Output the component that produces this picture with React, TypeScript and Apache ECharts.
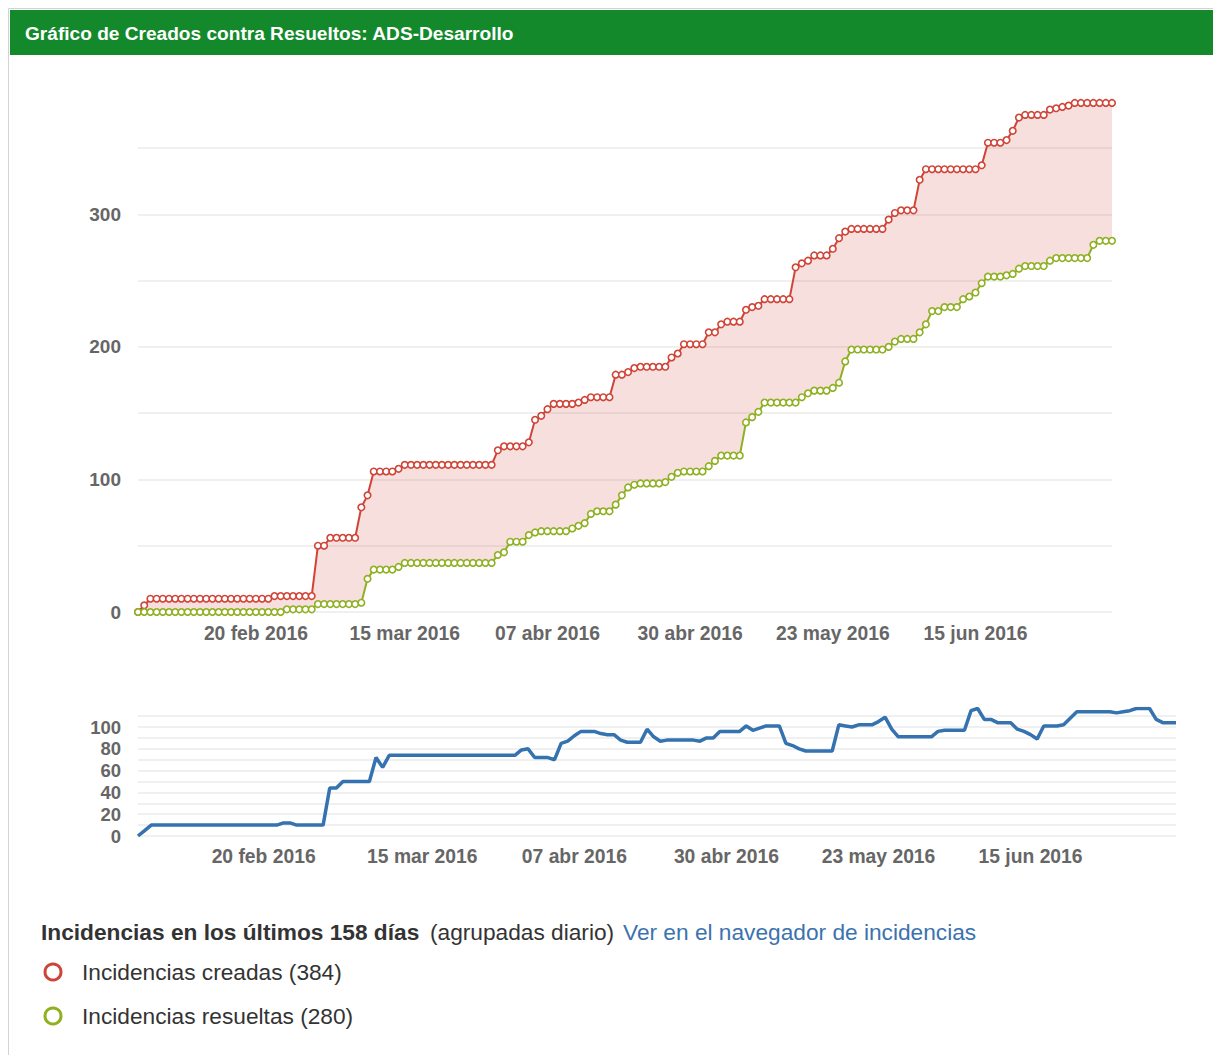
import React, { useEffect, useRef } from "react";
import * as echarts from "echarts";

const MONTHS_ES = ["ene", "feb", "mar", "abr", "may", "jun", "jul", "ago", "sep", "oct", "nov", "dic"];
const DAY_COUNT = 158;
const tickLabels = ["20 feb 2016", "15 mar 2016", "07 abr 2016", "30 abr 2016", "23 may 2016", "15 jun 2016"];
const mainYTicks = [0, 100, 200, 300];
const trendYTicks = [0, 20, 40, 60, 80, 100];

const created = [
  0, 5, 10, 10, 10, 10, 10, 10, 10, 10,
  10, 10, 10, 10, 10, 10, 10, 10, 10, 10,
  10, 10, 12, 12, 12, 12, 12, 12, 12, 50,
  50, 56, 56, 56, 56, 56, 79, 88, 106, 106,
  106, 106, 108, 111, 111, 111, 111, 111, 111, 111,
  111, 111, 111, 111, 111, 111, 111, 111, 122, 125,
  125, 125, 125, 128, 145, 148, 153, 157, 157, 157,
  157, 158, 160, 162, 162, 162, 162, 179, 179, 181,
  184, 185, 185, 185, 185, 185, 192, 195, 202, 202,
  202, 202, 211, 211, 217, 219, 219, 219, 228, 230,
  231, 236, 236, 236, 236, 236, 260, 263, 265, 269,
  269, 269, 274, 282, 287, 289, 289, 289, 289, 289,
  289, 296, 301, 303, 303, 303, 326, 334, 334, 334,
  334, 334, 334, 334, 334, 334, 337, 354, 354, 354,
  356, 363, 373, 375, 375, 375, 375, 379, 380, 381,
  382, 384, 384, 384, 384, 384, 384, 384,
];

const resolved = [
  0, 0, 0, 0, 0, 0, 0, 0, 0, 0,
  0, 0, 0, 0, 0, 0, 0, 0, 0, 0,
  0, 0, 0, 0, 2, 2, 2, 2, 2, 6,
  6, 6, 6, 6, 6, 6, 7, 25, 32, 32,
  32, 32, 34, 37, 37, 37, 37, 37, 37, 37,
  37, 37, 37, 37, 37, 37, 37, 37, 43, 45,
  53, 53, 53, 58, 60, 61, 61, 61, 61, 61,
  63, 65, 67, 74, 76, 76, 76, 81, 88, 94,
  96, 97, 97, 97, 97, 98, 102, 105, 106, 106,
  106, 106, 110, 114, 118, 118, 118, 118, 143, 147,
  151, 158, 158, 158, 158, 158, 158, 162, 165, 167,
  167, 167, 169, 173, 189, 198, 198, 198, 198, 198,
  198, 200, 204, 206, 206, 206, 211, 217, 227, 227,
  230, 230, 230, 236, 238, 241, 248, 253, 253, 253,
  254, 255, 259, 261, 261, 261, 261, 265, 267, 267,
  267, 267, 267, 267, 277, 280, 280, 280,
];

const unresolved = [
  0, 5, 10, 10, 10, 10, 10, 10, 10, 10,
  10, 10, 10, 10, 10, 10, 10, 10, 10, 10,
  10, 10, 12, 12, 10, 10, 10, 10, 10, 44,
  44, 50, 50, 50, 50, 50, 72, 63, 74, 74,
  74, 74, 74, 74, 74, 74, 74, 74, 74, 74,
  74, 74, 74, 74, 74, 74, 74, 74, 79, 80,
  72, 72, 72, 70, 85, 87, 92, 96, 96, 96,
  94, 93, 93, 88, 86, 86, 86, 98, 91, 87,
  88, 88, 88, 88, 88, 87, 90, 90, 96, 96,
  96, 96, 101, 97, 99, 101, 101, 101, 85, 83,
  80, 78, 78, 78, 78, 78, 102, 101, 100, 102,
  102, 102, 105, 109, 98, 91, 91, 91, 91, 91,
  91, 96, 97, 97, 97, 97, 115, 117, 107, 107,
  104, 104, 104, 98, 96, 93, 89, 101, 101, 101,
  102, 108, 114, 114, 114, 114, 114, 114, 113, 114,
  115, 117, 117, 117, 107, 104, 104, 104,
];

const RED = "#d04437";
const GREEN = "#8eb021";
const BLUE = "#3572b0";
const FONT = '"Liberation Sans", Arial, sans-serif';
const LEG_FS = 22.7;

function buildDates(): string[] {
  const out: string[] = [];
  for (let i = 0; i < DAY_COUNT; i++) {
    const d = new Date(Date.UTC(2016, 1, 1 + i));
    out.push(
      `${String(d.getUTCDate()).padStart(2, "0")} ${MONTHS_ES[d.getUTCMonth()]} ${d.getUTCFullYear()}`
    );
  }
  return out;
}

function legendText(x: number, y: number, text: string, fill: string, bold = false) {
  return {
    type: "text",
    x,
    y,
    silent: true,
    style: {
      text,
      fill,
      fontSize: LEG_FS,
      fontWeight: bold ? "bold" : "normal",
      fontFamily: FONT,
      verticalAlign: "middle",
    },
  };
}

export default function App() {
  const ref = useRef<HTMLDivElement>(null);

  useEffect(() => {
    document.body.style.margin = "0";
    if (!ref.current) return;
    const chart = echarts.init(ref.current, null, { renderer: "svg" });
    const dates = buildDates();

    const xLabel = {
      interval: (_i: number, v: string) => tickLabels.includes(v),
      fontSize: 19.3,
      fontWeight: "bold" as const,
      color: "#666",
      fontFamily: FONT,
    };

    const option: any = {
      animation: false,
      textStyle: { fontFamily: FONT },
      grid: [
        { left: 138, top: 95, width: 974, height: 517 },
        { left: 138, top: 708.5, width: 1038, height: 127.5 },
      ],
      xAxis: [
        {
          type: "category",
          gridIndex: 0,
          data: dates,
          boundaryGap: false,
          axisLine: { show: false },
          axisTick: { show: false },
          axisLabel: { ...xLabel, margin: 12 },
        },
        {
          type: "category",
          gridIndex: 1,
          data: dates,
          boundaryGap: false,
          axisLine: { show: false },
          axisTick: { show: false },
          axisLabel: { ...xLabel, margin: 11 },
        },
      ],
      yAxis: [
        {
          type: "value",
          gridIndex: 0,
          min: 0,
          max: 390,
          interval: 50,
          axisLine: { show: false },
          axisTick: { show: false },
          splitLine: { showMaxLine: false, lineStyle: { color: "#ebebeb", width: 1.5 } },
          axisLabel: {
            showMaxLabel: false,
            formatter: (v: number) => (mainYTicks.includes(v) ? String(v) : ""),
            fontSize: 19,
            fontWeight: "bold",
            color: "#666",
            margin: 17,
            fontFamily: FONT,
          },
        },
        {
          type: "value",
          gridIndex: 1,
          min: 0,
          max: 117,
          interval: 10,
          axisLine: { show: false },
          axisTick: { show: false },
          splitLine: { showMaxLine: false, lineStyle: { color: "#ebebeb", width: 1.5 } },
          axisLabel: {
            showMaxLabel: false,
            formatter: (v: number) => (trendYTicks.includes(v) ? String(v) : ""),
            fontSize: 18.5,
            fontWeight: "bold",
            color: "#666",
            margin: 17,
            fontFamily: FONT,
          },
        },
      ],
      series: [
        {
          name: "base",
          type: "line",
          xAxisIndex: 0,
          yAxisIndex: 0,
          stack: "band",
          data: resolved,
          symbol: "none",
          lineStyle: { opacity: 0 },
          silent: true,
          z: 1,
        },
        {
          name: "band",
          type: "line",
          xAxisIndex: 0,
          yAxisIndex: 0,
          stack: "band",
          data: unresolved,
          symbol: "none",
          lineStyle: { opacity: 0 },
          areaStyle: { color: "rgba(208,68,55,0.17)", opacity: 1 },
          silent: true,
          z: 1,
        },
        {
          name: "Incidencias creadas",
          type: "line",
          xAxisIndex: 0,
          yAxisIndex: 0,
          data: created,
          symbol: "circle",
          symbolSize: 6.5,
          showAllSymbol: true,
          lineStyle: { color: RED, width: 2 },
          itemStyle: { color: "#fff", borderColor: RED, borderWidth: 1.6 },
          z: 3,
        },
        {
          name: "Incidencias resueltas",
          type: "line",
          xAxisIndex: 0,
          yAxisIndex: 0,
          data: resolved,
          symbol: "circle",
          symbolSize: 6.5,
          showAllSymbol: true,
          lineStyle: { color: GREEN, width: 2 },
          itemStyle: { color: "#fff", borderColor: GREEN, borderWidth: 1.6 },
          z: 3,
        },
        {
          name: "Pendientes",
          type: "line",
          xAxisIndex: 1,
          yAxisIndex: 1,
          data: unresolved,
          symbol: "none",
          lineStyle: { color: BLUE, width: 3.5 },
          z: 3,
        },
      ],
      graphic: [
        {
          type: "rect",
          shape: { x: 8.5, y: 8.5, width: 1230, height: 1070 },
          style: { fill: "none", stroke: "#d3d3d3", lineWidth: 1 },
          silent: true,
        },
        {
          type: "rect",
          shape: { x: 10, y: 10, width: 1210, height: 45 },
          style: { fill: "#14892c" },
          silent: true,
        },
        {
          type: "text",
          x: 25,
          y: 33,
          style: {
            text: "Gráfico de Creados contra Resueltos: ADS-Desarrollo",
            fill: "#ffffff",
            fontSize: 19.1,
            fontWeight: "bold",
            fontFamily: FONT,
            verticalAlign: "middle",
          },
          silent: true,
        },
        legendText(41, 932, "Incidencias en los últimos 158 días", "#333", true),
        legendText(430, 932, "(agrupadas diario)", "#333"),
        legendText(623, 932, "Ver en el navegador de incidencias", "#3b73af"),
        {
          type: "circle",
          shape: { cx: 53, cy: 972, r: 8 },
          style: { fill: "#fff", stroke: RED, lineWidth: 3 },
          silent: true,
        },
        legendText(82, 972, "Incidencias creadas (384)", "#333"),
        {
          type: "circle",
          shape: { cx: 53, cy: 1016, r: 8 },
          style: { fill: "#fff", stroke: GREEN, lineWidth: 3 },
          silent: true,
        },
        legendText(82, 1016, "Incidencias resueltas (280)", "#333"),
      ],
    };

    chart.setOption(option);
    return () => chart.dispose();
  }, []);

  return <div ref={ref} style={{ width: 1213, height: 1055, overflow: "hidden" }} />;
}
